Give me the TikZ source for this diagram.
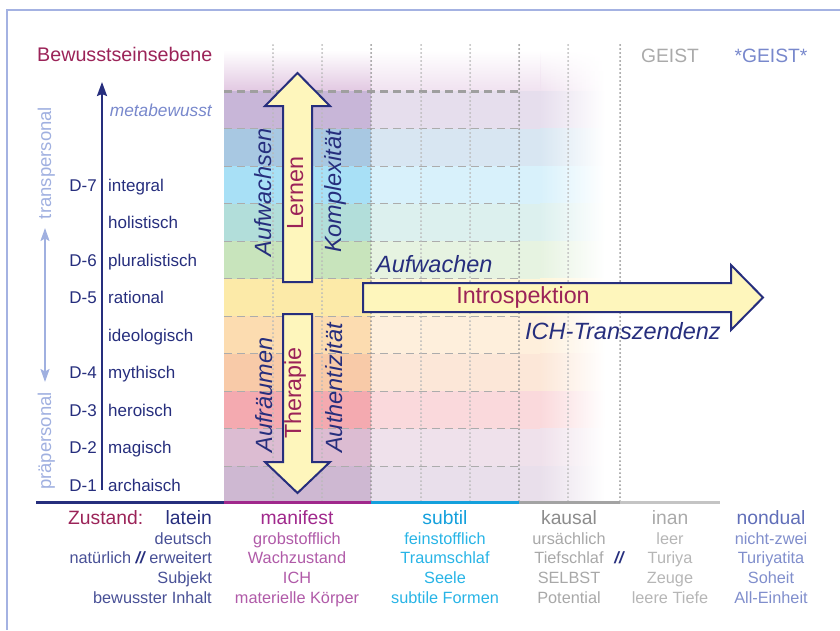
\documentclass[tikz,border=0pt]{standalone}
\usepackage{fontspec}
\setmainfont{Liberation Sans}
\usetikzlibrary{arrows.meta,fadings}
\definecolor{navy}{RGB}{38,46,125}
\definecolor{weinrot}{RGB}{155,35,88}
\definecolor{rahmen}{RGB}{164,178,226}
\definecolor{hellblau}{RGB}{160,176,224}
\definecolor{metablau}{RGB}{120,136,204}
\definecolor{zeilenblau}{RGB}{72,80,150}
\definecolor{pfeilgelb}{RGB}{254,246,188}
\definecolor{manifestK}{RGB}{160,40,140}
\definecolor{manifestZ}{RGB}{176,90,168}
\definecolor{subtilK}{RGB}{20,160,220}
\definecolor{subtilZ}{RGB}{40,180,230}
\definecolor{kausalK}{RGB}{140,140,140}
\definecolor{kausalZ}{RGB}{168,168,168}
\definecolor{inanK}{RGB}{170,170,170}
\definecolor{inanZ}{RGB}{182,182,182}
\definecolor{nondualK}{RGB}{96,110,184}
\definecolor{nondualZ}{RGB}{128,142,204}
\definecolor{band0}{RGB}{200,182,216}
\definecolor{band1}{RGB}{168,200,226}
\definecolor{band2}{RGB}{168,224,246}
\definecolor{band3}{RGB}{178,222,218}
\definecolor{band4}{RGB}{200,228,188}
\definecolor{band5}{RGB}{252,234,168}
\definecolor{band6}{RGB}{252,220,176}
\definecolor{band7}{RGB}{248,202,168}
\definecolor{band8}{RGB}{244,170,176}
\definecolor{band9}{RGB}{220,188,210}
\definecolor{band10}{RGB}{206,184,210}
\definecolor{kopfStark}{RGB}{226,200,226}
\definecolor{kopfHell}{RGB}{240,226,240}
\tikzset{ebene/.style={font=\fontsize{17}{20}\selectfont, text=navy, inner sep=0pt}}
\tikzset{kopf/.style={font=\fontsize{19.3}{22}\selectfont, anchor=base, inner sep=0pt}}
\tikzset{zeile/.style={font=\fontsize{16.3}{19}\selectfont, anchor=base, inner sep=0pt}}
\tikzset{schraeg/.style={font=\fontsize{23.5}{26}\selectfont\itshape, text=navy, inner sep=0pt}}
\tikzset{gerade/.style={font=\fontsize{23.3}{26}\selectfont, text=weinrot, inner sep=0pt}}
\tikzset{seite/.style={font=\fontsize{18.5}{22}\selectfont, text=hellblau, rotate=90, anchor=base, inner sep=0pt}}
\tikzset{pfeil/.style={fill=pfeilgelb, draw=navy, line width=2pt, line join=miter}}
\tikzset{raster/.style={draw=gray!65, line width=1.4pt, dash pattern=on 8pt off 5pt}}
\tikzset{punkte/.style={line width=2pt, line cap=round, dash pattern=on 0pt off 4pt}}
\tikzset{basis/.style={line width=2.4pt}}

\begin{document}
\begin{tikzpicture}[x=1pt,y=-1pt]
  \useasboundingbox (0,0) rectangle (840,630);
  \draw[rahmen, line width=1.6pt] (7,630) -- (7,10) -- (840,10);

  \fill[kopfStark, path fading=north] (224,50) rectangle (371,91.25);
  \fill[kopfHell, path fading=north] (371,50) rectangle (541,91.25);
  \shade[left color=kopfHell, right color=white, path fading=north] (540,50) rectangle (605,91.25);
  \foreach \farbe [count=\i from 0] in {band0,band1,band2,band3,band4,band5,band6,band7,band8,band9,band10}{
    \pgfmathsetmacro{\oben}{91.25+37.5*\i}
    \pgfmathsetmacro{\unten}{\oben+37.6}
    \fill[\farbe] (224,\oben) rectangle (371,\unten);
    \fill[\farbe!45!white] (371,\oben) rectangle (541,\unten);
    \shade[left color=\farbe!45!white, right color=white] (540,\oben) rectangle (605,\unten);
  }

  \foreach \i in {1,...,10}
    \draw[raster] (224,{91.25+37.5*\i}) -- (519,{91.25+37.5*\i});
  \draw[raster, draw=gray!75, line width=2.6pt] (224,91.25) -- (519,91.25);
  \foreach \x in {273,322,421,470,568}
    \draw[punkte, draw=gray!55] (\x,45) -- (\x,502);
  \foreach \x in {371,519,620}
    \draw[punkte, draw=gray!85] (\x,45) -- (\x,502);

  \draw[basis, navy] (36,502.5) -- (224,502.5);
  \draw[basis, manifestK] (224,502.5) -- (371,502.5);
  \draw[basis, subtilK] (371,502.5) -- (519,502.5);
  \draw[basis, kausalK!80] (519,502.5) -- (620,502.5);
  \draw[basis, inanK!70] (620,502.5) -- (720,502.5);

  \coordinate (achseUnten) at (102,490);
  \coordinate (achseOben) at (102,82);
  \draw[navy, line width=2.2pt, -{Stealth[length=14pt, width=10pt, inset=2pt]}] (achseUnten) -- (achseOben);
  \coordinate (seiteUnten) at (45,382);
  \coordinate (seiteOben) at (45,228);
  \draw[hellblau, line width=2pt, {Stealth[length=13pt, width=9pt, inset=2.5pt]}-{Stealth[length=13pt, width=9pt, inset=2.5pt]}] (seiteUnten) -- (seiteOben);

  \draw[pfeil] (283,282) -- (283,106) -- (265,106) -- (297.5,73) -- (330,106) -- (312,106) -- (312,282) -- cycle;
  \draw[pfeil] (283,314) -- (312,314) -- (312,462) -- (330,462) -- (297.5,493) -- (265,462) -- (283,462) -- cycle;
  \draw[pfeil] (363,283) -- (731,283) -- (731,265) -- (763,297.5) -- (731,330) -- (731,312) -- (363,312) -- cycle;

  \node[kopf, anchor=base west, text=weinrot, font=\fontsize{19.7}{22}\selectfont] (titel) at (37,61) {Bewusstseinsebene};
  \node[kopf, text=inanK] (geist) at (670,62) {GEIST};
  \node[kopf, text=metablau] (geistStern) at (771,62) {*GEIST*};

  \node[ebene, anchor=base east, font=\fontsize{17.3}{20}\selectfont\itshape, text=metablau] (meta) at (212,116) {metabewusst};
  \foreach \name [count=\i from 2] in {integral,holistisch,pluralistisch,rational,ideologisch,mythisch,heroisch,magisch,archaisch}
    \node[ebene, anchor=base west] (ebene-\i) at (108,{116+37.5*\i}) {\name};
  \foreach \d/\i in {D-7/2,D-6/4,D-5/5,D-4/7,D-3/8,D-2/9,D-1/10}
    \node[ebene, anchor=base east] (stufe-\i) at (97,{116+37.5*\i}) {\d};

  \node[seite] (trans) at (51,163) {transpersonal};
  \node[seite] (prae) at (51,441) {präpersonal};

  \node[schraeg, rotate=90, anchor=base] (aufwachsen) at (271,192.5) {Aufwachsen};
  \node[gerade, rotate=90, anchor=base] (lernen) at (303,193) {Lernen};
  \node[schraeg, rotate=90, anchor=base] (komplex) at (341,191.5) {Komplexität};
  \node[schraeg, rotate=90, anchor=base] (aufraeumen) at (272,395) {Aufräumen};
  \node[gerade, rotate=90, anchor=base] (therapie) at (301,393) {Therapie};
  \node[schraeg, rotate=90, anchor=base] (authentisch) at (342,388) {Authentizität};

  \node[schraeg, anchor=base west] (aufwachen) at (376,272) {Aufwachen};
  \node[gerade, anchor=base] (intro) at (523,303.5) {Introspektion};
  \node[schraeg, anchor=base west] (transzendenz) at (525,339) {ICH-Transzendenz};

  \node[kopf, anchor=base west, text=weinrot] (zustand) at (68,524) {Zustand:};
  \node[kopf, anchor=base east, text=navy] (latein) at (212,524) {latein};
  \node[zeile, anchor=base east, text=zeilenblau] (deutsch) at (212,544) {deutsch};
  \node[zeile, anchor=base east, text=zeilenblau] (natur) at (212,563.5) {natürlich {\color{navy}\bfseries\itshape //} erweitert};
  \node[zeile, anchor=base east, text=zeilenblau] (subjekt) at (212,583) {Subjekt};
  \node[zeile, anchor=base east, text=zeilenblau] (inhalt) at (212,603) {bewusster Inhalt};

  \foreach \x/\kopf/\kf/\zf/\za/\zb/\zc/\zd [count=\n] in {
      297/manifest/manifestK/manifestZ/grobstofflich/Wachzustand/ICH/materielle Körper,
      445/subtil/subtilK/subtilZ/feinstofflich/Traumschlaf/Seele/subtile Formen,
      569/kausal/kausalK/kausalZ/ursächlich/Tiefschlaf/SELBST/Potential,
      670/inan/inanK/inanZ/leer/Turiya/Zeuge/leere Tiefe,
      771/nondual/nondualK/nondualZ/nicht-zwei/Turiyatita/Soheit/All-Einheit}{
    \node[kopf, text=\kf] (kopf-\n) at (\x,524) {\kopf};
    \node[zeile, text=\zf] (za-\n) at (\x,544) {\za};
    \node[zeile, text=\zf] (zb-\n) at (\x,563.5) {\zb};
    \node[zeile, text=\zf] (zc-\n) at (\x,583) {\zc};
    \node[zeile, text=\zf] (zd-\n) at (\x,603) {\zd};
  }
  \node[zeile, text=navy, font=\fontsize{16.3}{19}\selectfont\bfseries\itshape] (trenner) at (619,563.5) {//};
\end{tikzpicture}
\end{document}
